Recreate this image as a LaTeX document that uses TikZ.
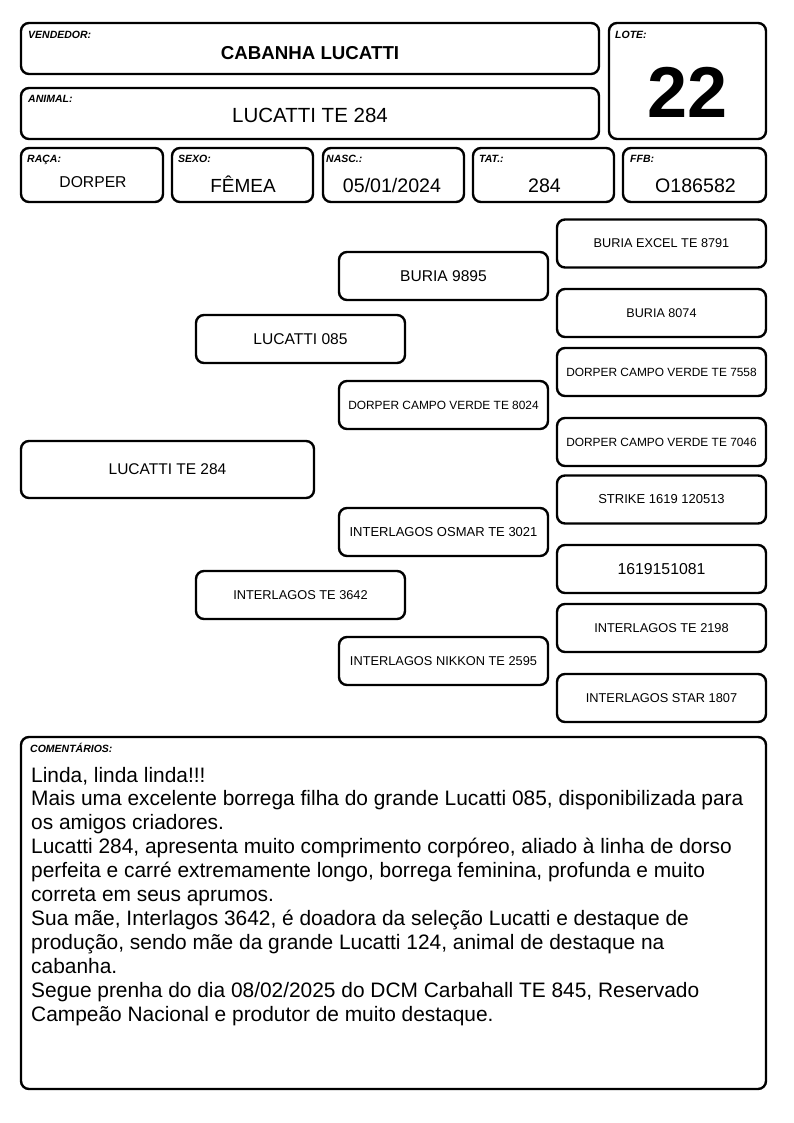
\documentclass[tikz,border=0pt]{standalone}
\usepackage{fontspec}
\setmainfont{Liberation Sans}
\usetikzlibrary{calc}
\begin{document}
\begin{tikzpicture}[x=1pt,y=-1pt,
  box/.style={draw=black, line width=2.4pt, rounded corners=8pt, inner sep=0pt, fill=white},
  lbl/.style={anchor=base west, inner sep=0pt, font=\fontsize{10.5}{12}\selectfont\bfseries\itshape},
  val/.style={anchor=base, inner sep=0pt},
  gthree/.style={box, minimum width=209pt, minimum height=48pt, font=\fontsize{12.8}{14}\selectfont},
  gtwo/.style={box, minimum width=209pt, minimum height=48pt, font=\fontsize{15.6}{17}\selectfont},
]
\useasboundingbox[fill=white] (0,0) rectangle (794,1123);

% header boxes
\node[box, minimum width=578pt, minimum height=51pt] (vend) at (310,48.5) {};
\node[box, minimum width=578pt, minimum height=51pt] (anim) at (310,113.5) {};
\node[box, minimum width=157pt, minimum height=116pt] (lote) at (687.5,81) {};
\node[box, minimum width=142pt, minimum height=54pt] (raca) at (92,175) {};
\node[box, minimum width=141pt, minimum height=54pt] (sexo) at (242.5,175) {};
\node[box, minimum width=141pt, minimum height=54pt] (nasc) at (393.5,175) {};
\node[box, minimum width=141pt, minimum height=54pt] (tat) at (543.5,175) {};
\node[box, minimum width=143pt, minimum height=54pt] (ffb) at (694.5,175) {};

\node[lbl] (lvend) at (28,39) {VENDEDOR:};
\node[lbl] (lanim) at (28,103) {ANIMAL:};
\node[lbl] (llote) at (615,39) {LOTE:};
\node[lbl] (lraca) at (27,163) {RAÇA:};
\node[lbl] (lsexo) at (178,163) {SEXO:};
\node[lbl] (lnasc) at (326,163) {NASC.:};
\node[lbl] (ltat) at (479,163) {TAT.:};
\node[lbl] (lffb) at (630,163) {FFB:};

\node[val, font=\fontsize{18.7}{20}\selectfont\bfseries] (tvend) at (310,60) {CABANHA LUCATTI};
\node[val, font=\fontsize{20.5}{22}\selectfont] (tanim) at (310,123) {LUCATTI TE 284};
\node[val, font=\fontsize{72}{74}\selectfont\bfseries] (tlote) at (687.5,118) {22};
\node[val, font=\fontsize{15.7}{17}\selectfont] (traca) at (93,188) {DORPER};
\node[val, font=\fontsize{19}{21}\selectfont] (tsexo) at (243,193) {FÊMEA};
\node[val, font=\fontsize{19.6}{21}\selectfont] (tnasc) at (392,193) {05/01/2024};
\node[val, font=\fontsize{19.6}{21}\selectfont] (ttat) at (544.5,193) {284};
\node[val, font=\fontsize{19.6}{21}\selectfont] (tffb) at (695.5,193) {O186582};

% pedigree
\node[box, minimum width=293pt, minimum height=57pt, font=\fontsize{15.5}{17}\selectfont] (subj) at (167.5,469.5) {LUCATTI TE 284};
\node[gtwo] (sire) at (300.5,339) {LUCATTI 085};
\node[gthree] (dam) at (300.5,595) {INTERLAGOS TE 3642};
\node[gtwo] (ss) at (443.5,276) {BURIA 9895};
\node[gthree, font=\fontsize{11.9}{13}\selectfont] (sd) at (443.5,405) {DORPER CAMPO VERDE TE 8024};
\node[gthree, font=\fontsize{13}{14}\selectfont] (ds) at (443.5,532) {INTERLAGOS OSMAR TE 3021};
\node[gthree] (dd) at (443.5,661) {INTERLAGOS NIKKON TE 2595};
\node[gthree, font=\fontsize{12.7}{14}\selectfont] (sss) at (661.5,243.5) {BURIA EXCEL TE 8791};
\node[gthree, font=\fontsize{12.6}{14}\selectfont] (ssd) at (661.5,313) {BURIA 8074};
\node[gthree, font=\fontsize{11.9}{13}\selectfont] (sds) at (661.5,372) {DORPER CAMPO VERDE TE 7558};
\node[gthree, font=\fontsize{11.9}{13}\selectfont] (sdd) at (661.5,442) {DORPER CAMPO VERDE TE 7046};
\node[gthree, font=\fontsize{13}{14}\selectfont] (dss) at (661.5,499.5) {STRIKE 1619 120513};
\node[gthree, font=\fontsize{15.8}{17}\selectfont] (dsd) at (661.5,569) {1619151081};
\node[gthree] (dds) at (661.5,628) {INTERLAGOS TE 2198};
\node[gthree] (ddd) at (661.5,698) {INTERLAGOS STAR 1807};

% comments
\node[box, minimum width=745pt, minimum height=352pt] (com) at (393.5,913) {};
\node[lbl] (lcom) at (30,752.7) {COMENTÁRIOS:};
\node[anchor=base west, inner sep=0pt, align=left, font=\fontsize{20.9}{23.9}\selectfont] (tcom) at (31,1021) {%
Linda, linda linda!!!\\
Mais uma excelente borrega filha do grande Lucatti 085, disponibilizada para\\
os amigos criadores.\\
Lucatti 284, apresenta muito comprimento corpóreo, aliado à linha de dorso\\
perfeita e carré extremamente longo, borrega feminina, profunda e muito\\
correta em seus aprumos.\\
Sua mãe, Interlagos 3642, é doadora da seleção Lucatti e destaque de\\
produção, sendo mãe da grande Lucatti 124, animal de destaque na\\
cabanha.\\
Segue prenha do dia 08/02/2025 do DCM Carbahall TE 845, Reservado\\
Campeão Nacional e produtor de muito destaque.};
\end{tikzpicture}
\end{document}
